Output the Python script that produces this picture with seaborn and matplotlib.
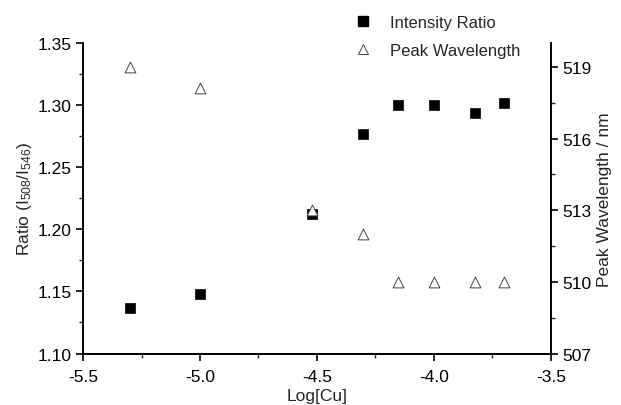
import matplotlib
matplotlib.use("Agg")
import matplotlib.pyplot as plt
from matplotlib.ticker import MultipleLocator, FormatStrFormatter
from matplotlib.lines import Line2D
import seaborn as sns
import pandas as pd

log_cu = [-5.301, -5.0, -4.523, -4.301, -4.155, -4.0, -3.824, -3.699]
intensity_ratio = [1.137, 1.148, 1.212, 1.277, 1.300, 1.300, 1.294, 1.302]
peak_wavelength = [519.0, 518.1, 513.0, 512.0, 510.0, 510.0, 510.0, 510.0]

df = pd.DataFrame({"x": log_cu, "ratio": intensity_ratio, "peak": peak_wavelength})

sns.set_style("ticks")
plt.rcParams['font.family'] = ['Liberation Sans', 'DejaVu Sans']
plt.rcParams['mathtext.fontset'] = 'custom'
plt.rcParams['mathtext.rm'] = 'Liberation Sans'
plt.rcParams['mathtext.it'] = 'Liberation Sans'

FS = 12.5

fig = plt.figure(figsize=(6.21, 4.06), dpi=100)
ax = fig.add_axes([0.1337, 0.1268, 0.7533, 0.7648])
ax2 = ax.twinx()

sns.scatterplot(data=df, x="x", y="ratio", ax=ax, marker="s", s=50,
                color="black", edgecolor="black", linewidth=0.5, legend=False, zorder=3)
sns.scatterplot(data=df, x="x", y="peak", ax=ax2, marker="^", s=60,
                facecolor="white", edgecolor="#444444", linewidth=0.7, legend=False, zorder=3)

ax.set_xlim(-5.5, -3.5)
ax.set_ylim(1.10, 1.35)
ax2.set_ylim(507, 520)

ax.xaxis.set_major_locator(MultipleLocator(0.5))
ax.xaxis.set_minor_locator(MultipleLocator(0.25))
ax.yaxis.set_major_locator(MultipleLocator(0.05))
ax.yaxis.set_minor_locator(MultipleLocator(0.025))
ax2.yaxis.set_major_locator(MultipleLocator(3))
ax2.yaxis.set_minor_locator(MultipleLocator(1.5))

ax.xaxis.set_major_formatter(FormatStrFormatter('%.1f'))
ax.yaxis.set_major_formatter(FormatStrFormatter('%.2f'))

for a in (ax, ax2):
    a.spines['top'].set_visible(False)
    for sp in a.spines.values():
        sp.set_linewidth(1.4)
        sp.set_color("black")
    a.tick_params(which='major', direction='out', length=5, width=1.2, labelsize=FS,
                  colors='black', pad=3)
    a.tick_params(which='minor', direction='out', length=3, width=1.0)
ax.tick_params(axis='x', which='major', pad=6)
ax.spines['right'].set_visible(False)
ax2.spines['left'].set_visible(False)
ax2.spines['bottom'].set_visible(False)

ax.set_xlabel("Log[Cu]", fontsize=FS, labelpad=3)
ax.set_ylabel(r"Ratio (I$_{508}$/I$_{546}$)", fontsize=FS, labelpad=3)
ax2.set_ylabel("Peak Wavelength / nm", fontsize=FS, labelpad=4)

handles = [
    Line2D([], [], linestyle='none', marker='s', markersize=6.5, color='black'),
    Line2D([], [], linestyle='none', marker='^', markersize=7.5, markerfacecolor='white',
           markeredgecolor='#444444', markeredgewidth=0.7),
]
fig.legend(handles, ["Intensity Ratio", "Peak Wavelength"], loc='upper left',
           bbox_to_anchor=(0.545, 0.998), frameon=False, fontsize=12,
           handlelength=1.2, handletextpad=1.0, labelspacing=0.8)

fig.savefig("out.png", dpi=100)
